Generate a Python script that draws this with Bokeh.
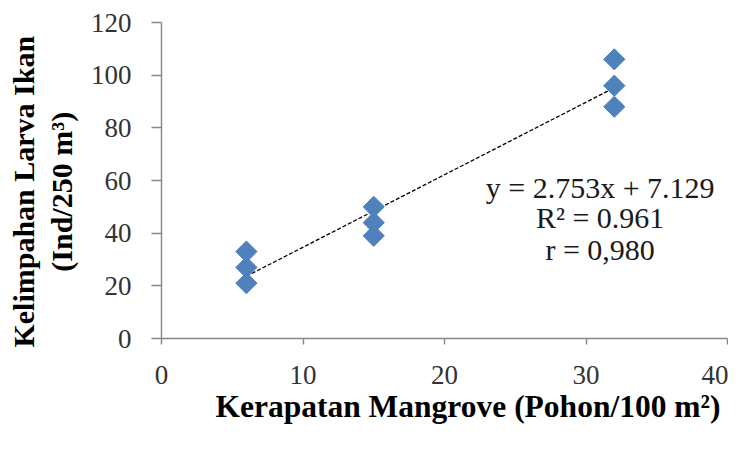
import numpy as np
from bokeh.plotting import figure
from bokeh.models import Range1d, Label, ColumnDataSource, FixedTicker, Title
from bokeh.embed import file_html
from bokeh.resources import INLINE

# ---- data ----
density_x = [6, 6, 6, 15, 15, 15, 32, 32, 32]
larva_y = [33, 27, 21, 50, 44, 39, 106, 96, 88]
trend_slope = 2.753
trend_intercept = 7.129
trend_x = [6, 32]
x_ticks = [0, 10, 20, 30, 40]
y_ticks = [0, 20, 40, 60, 80, 100, 120]
eq_lines = ["y = 2.753x + 7.129", "R\u00b2 = 0.961", "r = 0,980"]
x_title = "Kerapatan Mangrove (Pohon/100 m\u00b2)"
NB = "\u00a0\u00a0\u00a0"
y_title = "Kelimpahan Larva Ikan" + NB + "\n(Ind/250 m\u00b3)" + NB

SERIF = "Liberation Serif"

p = figure(width=728, height=441, output_backend="svg", toolbar_location=None,
           x_range=Range1d(0, 40), y_range=Range1d(0, 120),
           min_border_left=161, min_border_right=1, min_border_top=22,
           min_border_bottom=103)
p.outline_line_color = None
p.grid.visible = False
p.background_fill_color = "white"
p.border_fill_color = "white"

# axes
for ax in (p.xaxis[0], p.yaxis[0]):
    ax.axis_line_color = "#868686"
    ax.axis_line_width = 1.4
    ax.major_tick_line_color = "#868686"
    ax.major_tick_line_width = 1.4
    ax.minor_tick_line_color = None
    ax.major_tick_in = 0
    ax.major_label_text_font = SERIF
    ax.major_label_text_font_size = "27px"
    ax.major_label_text_color = "#333333"

p.xaxis[0].ticker = FixedTicker(ticks=x_ticks)
p.yaxis[0].ticker = FixedTicker(ticks=y_ticks)
p.xaxis[0].major_tick_out = 6
p.xaxis[0].major_label_standoff = 21
p.yaxis[0].major_tick_out = 10
p.yaxis[0].major_label_standoff = 20

p.yaxis[0].axis_label = y_title
p.yaxis[0].axis_label_text_font = SERIF
p.yaxis[0].axis_label_text_font_style = "bold"
p.yaxis[0].axis_label_text_font_size = "30px"
p.yaxis[0].axis_label_text_color = "black"
p.yaxis[0].axis_label_standoff = 10
p.yaxis[0].axis_label_text_line_height = 1.15

# trendline from stated coefficients
trend_y = [trend_slope * x + trend_intercept for x in trend_x]
p.line(trend_x, trend_y, line_color="black", line_width=1.3, line_dash="4 2")

src = ColumnDataSource(dict(x=density_x, y=larva_y))
p.scatter("x", "y", source=src, marker="square", size=15, angle=np.pi / 4,
          fill_color="#4F81BD", line_color="#4F81BD")

# equation text
for txt, yy in zip(eq_lines, [57.3, 46.0, 33.8]):
    p.add_layout(Label(x=31.0, y=yy, text=txt, text_align="center",
                       text_baseline="middle", text_font=SERIF,
                       text_font_size="30px", text_color="#1a1a1a"))

# x title (slightly right of frame centre in the reference)
p.add_layout(Title(text=x_title, align="left", offset=54, standoff=0,
                   text_font=SERIF, text_font_style="bold",
                   text_font_size="31.5px", text_color="black"), "below")

open("out.html", "w").write(file_html(p, INLINE))
